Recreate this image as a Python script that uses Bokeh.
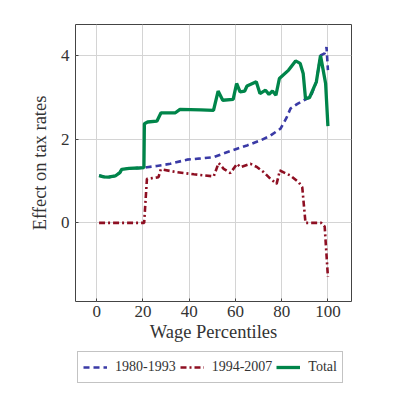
from bokeh.plotting import figure
from bokeh.layouts import column
from bokeh.models import Legend, LegendItem, FixedTicker, Range1d
from bokeh.embed import file_html
from bokeh.resources import INLINE

# Data
x_total = [1, 3, 5, 8, 10, 10.8, 14, 18, 20.4, 20.6, 22, 26, 27.8, 34, 36, 45, 50.5,
           52.5, 54.5, 59, 60.5, 62, 64, 65, 69, 70.6, 73, 74.5, 76, 77.5, 79, 83, 86,
           88, 89.3, 90.3, 92, 95, 96.8, 99, 100]
y_total = [1.13, 1.1, 1.09, 1.12, 1.2, 1.28, 1.3, 1.31, 1.32, 2.37, 2.41, 2.43, 2.63,
           2.63, 2.71, 2.70, 2.69, 3.15, 2.93, 2.95, 3.33, 3.13, 3.15, 3.27, 3.37, 3.09,
           3.17, 3.07, 3.15, 3.05, 3.45, 3.65, 3.87, 3.81, 3.57, 2.97, 2.99, 3.37, 4.0,
           3.33, 2.31]

x_80 = [1, 3, 5, 8, 10, 10.8, 14, 18, 20.4, 21.7, 26, 31.8, 39, 45, 50.6, 55, 60.7, 65,
        70.8, 75, 79.5, 82, 83.8, 87, 89.6, 92.5, 95, 96.8, 98.6, 99.4, 100]
y_80 = [1.13, 1.1, 1.09, 1.12, 1.2, 1.28, 1.3, 1.31, 1.32, 1.33, 1.36, 1.41, 1.51, 1.54,
        1.57, 1.66, 1.77, 1.85, 1.97, 2.08, 2.25, 2.5, 2.73, 2.85, 2.93, 3.01, 3.37, 4.0,
        4.05, 4.2, 3.65]

x_94 = [1, 20.5, 21.7, 26.7, 27.7, 34.7, 42, 50.6, 52.7, 54.9, 57.8, 60.7, 62.1, 66.5,
        69.4, 72, 75.2, 77.8, 79.2, 83.8, 87.4, 88.9, 90.3, 97.1, 98.6, 100]
y_94 = [0, 0, 1.05, 1.09, 1.28, 1.21, 1.16, 1.11, 1.43, 1.29, 1.19, 1.41, 1.33, 1.41,
        1.33, 1.22, 1.05, 0.93, 1.25, 1.13, 0.97, 0.85, 0, 0, -0.09, -1.29]

x_ticks = [0, 20, 40, 60, 80, 100]
y_ticks = [0, 2, 4]
labels = ["1980-1993", "1994-2007", "Total"]

FONT = "Liberation Serif"
STYLES = [dict(line_color="#3a3aa6", line_width=2.6, line_dash="6 4"),
          dict(line_color="#8e0f22", line_width=2.6, line_dash="6 3 2 3"),
          dict(line_color="#00854a", line_width=3.3)]

p = figure(width=384, height=349, min_border_left=75, min_border_top=24,
           min_border_right=33, min_border_bottom=48,
           output_backend="svg", toolbar_location=None,
           x_range=Range1d(-9.2, 110.2), y_range=Range1d(-1.88, 4.74))

p.outline_line_color = "#444444"
p.outline_line_width = 1
p.background_fill_color = "white"
p.border_fill_color = "white"

for ax in (p.xaxis[0], p.yaxis[0]):
    ax.axis_line_color = None
    ax.major_tick_in = 3
    ax.major_tick_out = 0
    ax.minor_tick_line_color = None
    ax.major_tick_line_color = "#444444"
    ax.major_label_text_font = FONT
    ax.major_label_text_font_size = "17px"
    ax.major_label_text_color = "#333333"
    ax.axis_label_text_font = FONT
    ax.axis_label_text_font_size = "18.5px"
    ax.axis_label_text_font_style = "normal"
    ax.axis_label_text_color = "#333333"

p.xaxis.ticker = FixedTicker(ticks=x_ticks)
p.yaxis.ticker = FixedTicker(ticks=y_ticks)
p.xaxis.axis_label = "Wage Percentiles"
p.yaxis.axis_label = "Effect on tax rates"
p.xaxis.major_label_standoff = 4
p.yaxis.major_label_standoff = 6
p.xaxis.axis_label_standoff = 2
p.yaxis.axis_label_standoff = 8

p.xgrid.grid_line_color = "#d4d4d4"
p.ygrid.grid_line_color = "#d4d4d4"

p.line(x_80, y_80, **STYLES[0])
p.line(x_94, y_94, **STYLES[1])
p.line(x_total, y_total, **STYLES[2])

# Separate strip holding the legend below the chart (its lines sit outside its view)
lg = figure(width=384, height=40, min_border_left=75, min_border_right=0,
            min_border_top=0, min_border_bottom=0,
            output_backend="svg", toolbar_location=None,
            x_range=Range1d(-1000, -999), y_range=Range1d(-1000, -999))
lg.axis.visible = False
lg.grid.visible = False
lg.outline_line_color = None
lg.background_fill_color = "white"
lg.border_fill_color = "white"
dummies = [lg.line(x_80, y_80, **STYLES[0]),
           lg.line(x_94, y_94, **STYLES[1]),
           lg.line(x_total, y_total, **STYLES[2])]

legend = Legend(items=[LegendItem(label=labels[i], renderers=[dummies[i]]) for i in range(3)],
                orientation="horizontal", location=(2, 6))
legend.label_text_font = FONT
legend.label_text_font_size = "14px"
legend.label_text_color = "#333333"
legend.glyph_width = 24
legend.label_standoff = 8
legend.spacing = 4
legend.padding = 5
legend.margin = 0
legend.border_line_color = "#888888"
legend.border_line_width = 1
lg.add_layout(legend, "center")

layout = column(p, lg, spacing=0)
open("out.html", "w").write(file_html(layout, INLINE))
